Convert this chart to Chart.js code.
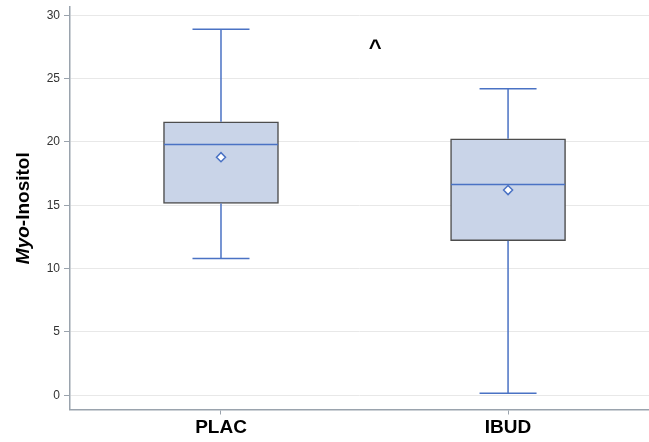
<!DOCTYPE html>
<html>
<head>
<meta charset="utf-8">
<script src="https://cdn.jsdelivr.net/npm/chart.js@4/dist/chart.umd.min.js"></script>
<style>
  html, body { margin: 0; padding: 0; background: #fff; }
  #wrap { width: 649px; height: 442px; }
</style>
</head>
<body>
<div id="wrap"><canvas id="chart"></canvas></div>
<script>
const groups = ["PLAC", "IBUD"];
const whiskerLow = [10.8, 0.16];
const q1 = [15.15, 12.2];
const median = [19.8, 16.65];
const q3 = [21.6, 20.25];
const whiskerHigh = [28.9, 24.2];
const means = [18.8, 16.2];
const yTicks = [0, 5, 10, 15, 20, 25, 30];
const marker = { text: "^", x: 1.537, y: 27.35 };

const FONT = "Arial, 'Liberation Sans', sans-serif";
const BLUE = "#4a72c4";

const boxPlotExtras = {
  id: "boxPlotExtras",
  afterDatasetsDraw(chart) {
    const { ctx, scales: { x, y } } = chart;
    ctx.save();
    ctx.strokeStyle = BLUE;
    ctx.lineWidth = 1.5;
    groups.forEach((g, i) => {
      const cx = x.getPixelForValue(i + 1);
      const half = 57;
      const cap = 28.5;
      ctx.beginPath();
      // median
      ctx.moveTo(cx - half, y.getPixelForValue(median[i]));
      ctx.lineTo(cx + half, y.getPixelForValue(median[i]));
      // upper whisker
      ctx.moveTo(cx, y.getPixelForValue(q3[i]));
      ctx.lineTo(cx, y.getPixelForValue(whiskerHigh[i]));
      ctx.moveTo(cx - cap, y.getPixelForValue(whiskerHigh[i]));
      ctx.lineTo(cx + cap, y.getPixelForValue(whiskerHigh[i]));
      // lower whisker
      ctx.moveTo(cx, y.getPixelForValue(q1[i]));
      ctx.lineTo(cx, y.getPixelForValue(whiskerLow[i]));
      ctx.moveTo(cx - cap, y.getPixelForValue(whiskerLow[i]));
      ctx.lineTo(cx + cap, y.getPixelForValue(whiskerLow[i]));
      ctx.stroke();
    });

    // annotation marker
    ctx.fillStyle = "#000";
    ctx.font = "bold 22px " + FONT;
    ctx.textAlign = "center";
    ctx.textBaseline = "middle";
    ctx.fillText(marker.text, x.getPixelForValue(marker.x), y.getPixelForValue(marker.y));

    // y axis title: italic "Myo" + "-Inositol"
    const a = chart.chartArea;
    ctx.translate(24, (a.top + a.bottom) / 2);
    ctx.rotate(-Math.PI / 2);
    ctx.textAlign = "left";
    ctx.font = "italic bold 19px " + FONT;
    const w1 = ctx.measureText("Myo").width;
    ctx.font = "bold 19px " + FONT;
    const w2 = ctx.measureText("-Inositol").width;
    const start = -(w1 + w2) / 2;
    ctx.font = "italic bold 19px " + FONT;
    ctx.fillText("Myo", start, 0);
    ctx.font = "bold 19px " + FONT;
    ctx.fillText("-Inositol", start + w1, 0);
    ctx.restore();
  },
};

new Chart(document.getElementById("chart"), {
  type: "bar",
  data: {
    datasets: [
      {
        type: "bar",
        data: groups.map((g, i) => ({ x: i + 1, y: [q1[i], q3[i]] })),
        backgroundColor: "#c9d4e8",
        borderColor: "#4d4d4d",
        borderWidth: 1.5,
        borderSkipped: false,
        barThickness: 115,
        order: 2,
      },
      {
        type: "scatter",
        data: groups.map((g, i) => ({ x: i + 1, y: means[i] })),
        pointStyle: "rectRot",
        pointRadius: 4.5,
        borderColor: BLUE,
        borderWidth: 1.5,
        backgroundColor: "#ffffff",
        order: 1,
      },
    ],
  },
  options: {
    responsive: true,
    maintainAspectRatio: false,
    animation: false,
    layout: { autoPadding: false, padding: { top: 7, right: 0, left: 0, bottom: 0 } },
    plugins: { legend: { display: false }, tooltip: { enabled: false } },
    scales: {
      x: {
        type: "linear",
        offset: false,
        min: 0.474,
        max: 2.491,
        afterBuildTicks: (scale) => {
          scale.ticks = groups.map((g, i) => ({ value: i + 1 }));
        },
        afterFit: (scale) => {
          scale.height = 32.5;
          scale.paddingLeft = 0;
          scale.paddingRight = 0;
        },
        ticks: {
          callback: (v) => groups[v - 1],
          color: "#000",
          font: { family: FONT, size: 19, weight: "bold" },
          padding: 2,
          maxRotation: 0,
        },
        grid: { offset: false, drawOnChartArea: false, tickLength: 5, tickColor: "#9aa3ad" },
        border: { color: "#9aa3ad", width: 1.5 },
      },
      y: {
        min: -1.13,
        max: 30.66,
        afterBuildTicks: (scale) => {
          scale.ticks = yTicks.map((v) => ({ value: v }));
        },
        afterFit: (scale) => {
          scale.width = 70;
          scale.paddingTop = 0;
          scale.paddingBottom = 0;
        },
        ticks: {
          color: "#333",
          font: { family: FONT, size: 12 },
          padding: 4,
        },
        grid: { color: "#e8e8e8", tickLength: 6, tickColor: "#9aa3ad" },
        border: { color: "#9aa3ad", width: 1.5 },
      },
    },
  },
  plugins: [boxPlotExtras],
});
</script>
</body>
</html>
